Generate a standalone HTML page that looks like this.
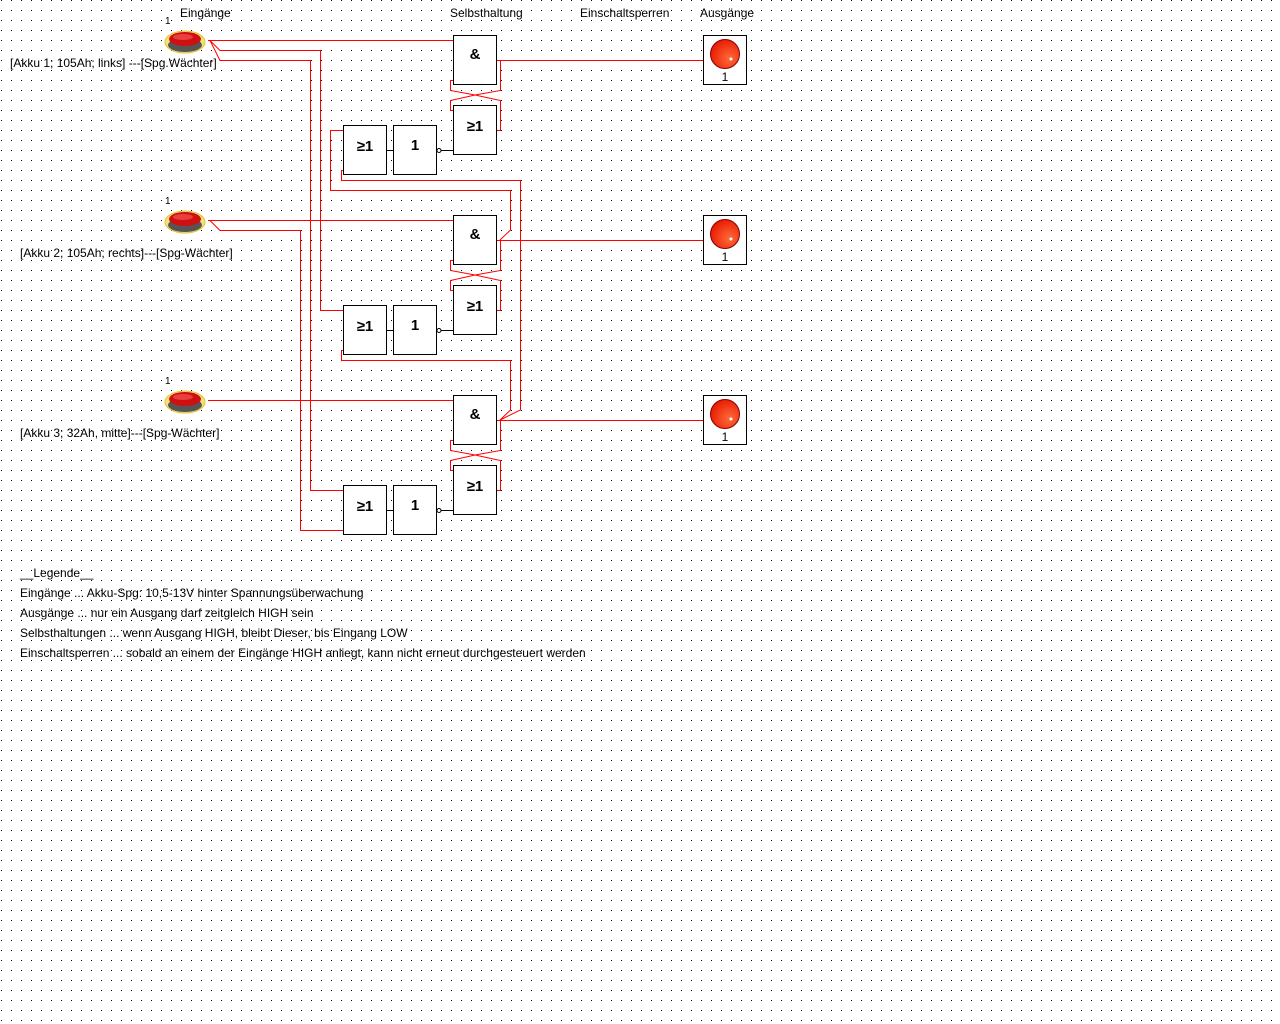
<!DOCTYPE html>
<html><head><meta charset="utf-8"><style>
html,body{margin:0;padding:0;background:#fff;}
svg{display:block}
text{font-family:"Liberation Sans",sans-serif;font-size:12px;fill:#000}
.g{font-weight:bold;font-size:15px}
</style></head><body>
<svg width="1280" height="1024" xmlns="http://www.w3.org/2000/svg">
<defs>
<pattern id="d" x="1" y="0" width="10" height="10" patternUnits="userSpaceOnUse"><rect width="1" height="1" fill="#000"/></pattern>
<radialGradient id="lr" cx="0.65" cy="0.65" r="0.7"><stop offset="0" stop-color="#ff6a3a"/><stop offset="1" stop-color="#e81a00"/></radialGradient>
<g id="btn">
<ellipse cx="0" cy="2" rx="20" ry="11" fill="#f5e27a" stroke="#e0c030"/>
<ellipse cx="0" cy="5" rx="17" ry="7" fill="#555"/>
<ellipse cx="0" cy="-1" rx="16" ry="7" fill="#d01010"/>
<ellipse cx="-2" cy="-3" rx="10" ry="3" fill="#e84040"/>
</g>
<g id="blk" fill="none">
<g stroke="#f00" stroke-width="1">
<path d="M497,60.5H500.5V90.5L475,95L450.5,100.5V110.5H453"/>
<path d="M497,130.5H500.5V100.5L475,95L450.5,90.5V80.5H453"/>
</g>
<g stroke="#000" stroke-width="1">
<rect x="453.5" y="35.5" width="43" height="49" fill="#fff"/>
<rect x="453.5" y="105.5" width="43" height="49" fill="#fff"/>
<rect x="343.5" y="125.5" width="43" height="49" fill="#fff"/>
<rect x="393.5" y="125.5" width="43" height="49" fill="#fff"/>
<path d="M387,150.5H393M441,150.5H453"/>
<circle cx="439" cy="150.5" r="2" fill="#fff"/>
</g>
<text x="475" y="59" class="g" text-anchor="middle" style="fill:#000">&amp;</text>
<text x="475" y="131" class="g" text-anchor="middle" style="fill:#000">≥1</text>
<text x="365" y="151" class="g" text-anchor="middle" style="fill:#000">≥1</text>
<text x="415" y="150" class="g" text-anchor="middle" style="fill:#000">1</text>
<rect x="703.5" y="35.5" width="43" height="49" fill="#fff" stroke="#000"/>
<circle cx="725" cy="54" r="14.5" fill="url(#lr)" stroke="#800"/>
<circle cx="731" cy="59" r="1.5" fill="#fff"/>
<text x="725" y="81" text-anchor="middle" style="fill:#000">1</text>
<path d="M497,60.5H703" stroke="#f00"/>
</g>
</defs>
<rect width="1280" height="1024" fill="url(#d)"/>
<g fill="none" stroke="#f00" stroke-width="1">
<!-- button 1 -->
<path d="M208,40.5H453"/>
<path d="M210,40.5L220,50.5H320.5V310.5H343"/>
<path d="M210,40.5L220,60.5H310.5V490.5H343"/>
<!-- button 2 -->
<path d="M208,220.5H453"/>
<path d="M210,220.5L220,230.5H300.5V530.5H343"/>
<!-- button 3 -->
<path d="M208,400.5H453"/>
<!-- block1 left OR inputs -->
<path d="M343,130.5H330.5V190.5H510.5V230L500,240"/>
<path d="M343,170.5H341.5V180.5H520.5V410L500,420"/>
<!-- block2 left OR lower -->
<path d="M343,350.5H341.5V360.5H510.5V410L500,420"/>
</g>
<use href="#blk"/>
<use href="#blk" y="180"/>
<use href="#blk" y="360"/>
<use href="#btn" x="185" y="40"/>
<use href="#btn" x="185" y="220"/>
<use href="#btn" x="185" y="400"/>
<text x="165" y="24" style="font-size:10px">1</text>
<text x="165" y="204" style="font-size:10px">1</text>
<text x="165" y="384" style="font-size:10px">1</text>
<text x="180" y="17">Eingänge</text>
<text x="450" y="17">Selbsthaltung</text>
<text x="580" y="17">Einschaltsperren</text>
<text x="700" y="17">Ausgänge</text>
<text x="10" y="67">[Akku 1; 105Ah; links] ---[Spg.Wächter]</text>
<text x="20" y="257">[Akku 2; 105Ah; rechts]---[Spg-Wächter]</text>
<text x="20" y="437">[Akku 3; 32Ah, mitte]---[Spg-Wächter]</text>
<text x="20" y="577">__Legende__</text>
<text x="20" y="597">Eingänge ... Akku-Spg: 10,5-13V hinter Spannungsüberwachung</text>
<text x="20" y="617">Ausgänge ... nur ein Ausgang darf zeitgleich HIGH sein</text>
<text x="20" y="637">Selbsthaltungen ... wenn Ausgang HIGH, bleibt Dieser, bis Eingang LOW</text>
<text x="20" y="657">Einschaltsperren ... sobald an einem der Eingänge HIGH anliegt, kann nicht erneut durchgesteuert werden</text>
</svg>
</body></html>
